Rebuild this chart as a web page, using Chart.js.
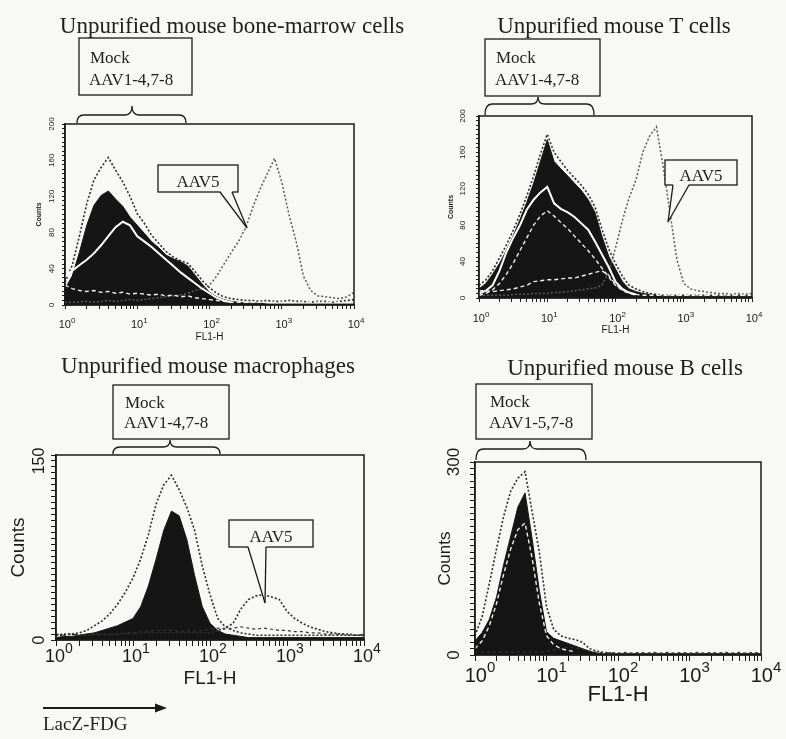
<!DOCTYPE html>
<html>
<head>
<meta charset="utf-8">
<title>AAV transduction of unpurified mouse cells</title>
<script src="https://cdn.jsdelivr.net/npm/chart.js@4.4.1/dist/chart.umd.min.js"></script>
<style>
  html, body { margin: 0; padding: 0; background: #f8f8f6; }
  #page { position: relative; width: 786px; height: 739px; overflow: hidden; }
  #page canvas { position: absolute; }
  #notes { position: absolute; left: 0; top: 0; pointer-events: none; }
  #notes text { font-family: "Liberation Serif", "Times New Roman", serif; fill: #1e1e1e; }
</style>
</head>
<body>
<div id="page">
  <canvas id="bm" width="393" height="245" style="left:0;top:100px"></canvas>
  <canvas id="tc" width="393" height="245" style="left:393px;top:100px"></canvas>
  <canvas id="mp" width="393" height="299" style="left:0;top:440px"></canvas>
  <canvas id="bc" width="393" height="299" style="left:393px;top:440px"></canvas>
  <svg id="notes" width="786" height="739"></svg>
</div>
<script>
// --- data: FL1-H channel bins (10 per decade) ---
const fl1Bins = [1, 1.26, 1.58, 2, 2.51, 3.16, 3.98, 5.01, 6.31, 7.94,
  10, 12.6, 15.8, 20, 25.1, 31.6, 39.8, 50.1, 63.1, 79.4,
  100, 126, 158, 200, 251, 316, 398, 501, 631, 794,
  1000, 1259, 1585, 1995, 2512, 3162, 3981, 5012, 6310, 7943, 10000];

const xDecades = [1, 10, 100, 1000, 10000];
const xExponents = ['0', '1', '2', '3', '4'];
const xMinorTicks = [1, 2, 3, 4, 5, 6, 7, 8, 9, 10, 20, 30, 40, 50, 60, 70, 80, 90,
  100, 200, 300, 400, 500, 600, 700, 800, 900, 1000, 2000, 3000, 4000, 5000, 6000, 7000, 8000, 9000, 10000];

const yLabelsBm = [0, 40, 80, 120, 160, 200];
const yLabelsTc = [0, 40, 80, 120, 160, 200];
const yLabelsMp = [0, 150];
const yLabelsBc = [0, 300];

// bone-marrow cells
const bmMockFill = [18, 32, 58, 88, 110, 121, 126, 117, 109, 97, 88, 79, 70, 63, 55, 51, 48, 43, 33, 23,
  14, 9, 6, 4, 3, 2, 2, 2, 1, 1, 1, 1, 1, 1, 1, 1, 1, 1, 1, 1, 1];
const bmMockDotted = [25, 44, 76, 112, 138, 152, 163, 149, 136, 120, 101, 90, 77, 68, 59, 53, 49, 46, 37, 27,
  19, 13, 9, 7, 6, 5, 5, 4, 5, 4, 4, 5, 4, 4, 3, 4, 4, 3, 4, 5, 6];
const bmMockWhite = [31, 38, 44, 50, 57, 66, 76, 86, 92, 88, 76, 70, 64, 57, 50, 43, 36, 30, 24, 18,
  13, 8, 5, 3, null, null, null, null, null, null, null, null, null, null, null, null, null, null, null, null, null];
const bmMockLow = [22, 18, 16, 15, 16, 14, 15, 13, 14, 12, 13, 12, 11, 12, 10, 11, 9, 10, 8, 7,
  6, 5, 4, 3, 3, 3, 3, 3, 3, 3, 3, 3, 3, 3, 3, 3, 3, 3, 3, 3, 3];
const bmAav5 = [3, 3, 3, 4, 3, 4, 5, 4, 5, 6, 5, 6, 7, 8, 9, 10, 11, 13, 16, 18,
  22, 32, 45, 58, 70, 85, 108, 128, 145, 162, 136, 100, 70, 32, 16, 10, 9, 8, 7, 9, 14];

// T cells
const tcMockFill = [10, 16, 26, 38, 52, 68, 86, 105, 126, 150, 174, 150, 142, 134, 126, 118, 108, 94, 68, 46,
  32, 18, 10, 7, 5, 4, 3, 2, 2, 2, 2, 2, 2, 2, 2, 2, 2, 2, 2, 2, 2];
const tcMockDotted = [14, 20, 30, 44, 58, 74, 92, 112, 134, 158, 180, 160, 150, 140, 132, 124, 114, 100, 76, 54,
  38, 24, 14, 10, 7, 5, 4, 3, 3, 3, 3, 3, 3, 3, 3, 3, 3, 3, 3, 3, 3];
const tcMockWhite = [5, 8, 14, 30, 50, 66, 80, 97, 108, 116, 122, 104, 98, 94, 89, 82, 75, 62, 48, 34,
  18, 10, 6, 4, null, null, null, null, null, null, null, null, null, null, null, null, null, null, null, null, null];
const tcMockWhite2 = [3, 5, 9, 16, 26, 38, 52, 66, 80, 90, 96, 90, 83, 76, 68, 60, 52, 43, 33, 23,
  14, 8, 5, 3, null, null, null, null, null, null, null, null, null, null, null, null, null, null, null, null, null];
const tcMockLow = [8, 8, 7, 8, 9, 10, 12, 14, 18, 19, 20, 20, 21, 22, 22, 24, 26, 28, 30, 25,
  15, 9, 6, 4, 3, 3, 3, 3, 3, 3, 3, 3, 3, 3, 3, 3, 3, 3, 3, 3, 3];
const tcAav5 = [3, 3, 3, 3, 3, 4, 4, 4, 5, 5, 5, 6, 6, 7, 8, 9, 10, 11, 14, 28,
  55, 85, 110, 130, 160, 178, 188, 144, 93, 42, 16, 10, 8, 7, 6, 5, 5, 4, 5, 4, 5];

// macrophages
const mpMockFill = [2, 3, 3, 4, 5, 6, 8, 10, 12, 15, 18, 28, 45, 68, 92, 108, 104, 84, 54, 28,
  14, 8, 5, 4, 3, 2, 2, 2, 2, 2, 2, 2, 2, 2, 2, 2, 2, 2, 2, 2, 2];
const mpMockDotted = [4, 5, 5, 6, 8, 12, 16, 22, 30, 40, 52, 68, 88, 114, 130, 138, 126, 111, 92, 62,
  38, 18, 11, 8, 6, 5, 4, 4, 4, 4, 4, 4, 4, 4, 4, 4, 4, 4, 4, 4, 4];
const mpMockLow = [5, 4, 5, 4, 5, 5, 4, 5, 5, 6, 6, 7, 7, 8, 8, 8, 7, 8, 7, 8,
  9, 10, 9, 10, 11, 10, 9, 10, 9, 8, 8, 7, 7, 6, 6, 5, 5, 5, 4, 4, 5];
const mpAav5 = [4, 4, 5, 4, 4, 5, 5, 4, 5, 5, 5, 6, 6, 6, 6, 6, 6, 6, 6, 6,
  6, 8, 10, 14, 26, 34, 37, 38, 36, 34, 24, 18, 14, 11, 9, 7, 6, 5, 5, 4, 4];

// B cells
const bcMockFill = [22, 35, 55, 90, 140, 185, 230, 252, 180, 100, 36, 26, 22, 18, 14, 10, 6, 3, 2, 2,
  2, 2, 2, 2, 2, 2, 2, 2, 2, 2, 2, 2, 2, 2, 2, 2, 2, 2, 2, 2, 2];
const bcMockDotted = [30, 60, 110, 165, 215, 255, 275, 285, 222, 160, 75, 40, 30, 26, 24, 20, 10, 6, 4, 3,
  2, 2, 2, 2, 2, 2, 2, 2, 2, 2, 2, 2, 2, 2, 2, 2, 2, 2, 2, 2, 2];
const bcMockWhite = [10, 22, 45, 80, 125, 165, 195, 205, 150, 80, 30, 16, 10, 7, 5,
  null, null, null, null, null, null, null, null, null, null, null, null, null, null, null, null, null, null, null, null, null, null, null, null, null, null];
const bcMockLow = [4, 4, 5, 4, 5, 4, 5, 4, 5, 4, 6, 8, 10, 12, 11, 9, 6, 4, 3, 4,
  3, 4, 3, 4, 3, 4, 3, 4, 3, 4, 3, 4, 3, 4, 3, 4, 3, 4, 3, 4, 3];

// --- chart setup ---
const INK = '#1a1a1a';
const SANS = '"Liberation Sans", Arial, Helvetica, sans-serif';
Chart.defaults.font.family = SANS;
Chart.defaults.color = INK;

const looks = {
  fill:      { borderColor: '#151515', backgroundColor: '#151515', borderWidth: 1, fill: 'origin', order: 6 },
  dotted:    { borderColor: '#2b2b2b', borderWidth: 1.6, borderDash: [2, 2], fill: false, order: 4 },
  aav:       { borderColor: '#5a5a5a', borderWidth: 1.5, borderDash: [2, 2], fill: false, order: 3 },
  low:       { borderColor: '#333333', borderWidth: 1.2, borderDash: [3, 3], fill: false, order: 2 },
  white:     { borderColor: '#ffffff', borderWidth: 2, fill: false, order: 1 },
  whiteDash: { borderColor: '#eeeeee', borderWidth: 1.4, borderDash: [4, 3], fill: false, order: 0 }
};

function series(label, values, look) {
  return Object.assign({
    label: label,
    data: fl1Bins.map((x, i) => ({ x: x, y: values[i] })),
    pointRadius: 0, tension: 0, spanGaps: false
  }, looks[look]);
}

// box round the plot area
const frame = {
  id: 'frame',
  afterDraw(chart) {
    const { ctx, chartArea: a } = chart;
    ctx.save();
    ctx.strokeStyle = INK;
    ctx.lineWidth = 1.5;
    ctx.strokeRect(a.left, a.top, a.right - a.left, a.bottom - a.top);
    ctx.restore();
  }
};

// 10^n labels with a raised exponent
const decades = {
  id: 'decades',
  afterDraw(chart, args, o) {
    const { ctx } = chart;
    const sx = chart.scales.x;
    const base = chart.chartArea.bottom + o.offset;
    ctx.save();
    ctx.fillStyle = INK;
    ctx.textBaseline = 'alphabetic';
    xDecades.forEach((v, i) => {
      ctx.font = o.size + 'px ' + SANS;
      const wm = ctx.measureText('10').width;
      ctx.font = o.supSize + 'px ' + SANS;
      const ws = ctx.measureText(xExponents[i]).width;
      const x0 = sx.getPixelForValue(v) + o.shift - (wm + ws) / 2;
      ctx.font = o.size + 'px ' + SANS;
      ctx.fillText('10', x0, base);
      ctx.font = o.supSize + 'px ' + SANS;
      ctx.fillText(xExponents[i], x0 + wm, base - o.raise);
    });
    ctx.restore();
  }
};

function histogram(id, p) {
  return new Chart(document.getElementById(id), {
    type: 'line',
    data: { datasets: p.sets },
    plugins: [decades, frame],
    options: {
      responsive: false,
      animation: false,
      events: [],
      layout: { padding: p.pad },
      plugins: { legend: { display: false }, tooltip: { enabled: false }, decades: p.xl },
      scales: {
        x: {
          type: 'logarithmic', min: 1, max: 10000,
          afterBuildTicks: s => { s.ticks = xMinorTicks.map(v => ({ value: v })); },
          afterFit: s => { s.height = p.xh; },
          ticks: { display: false },
          grid: { drawOnChartArea: false, tickLength: p.xtl, color: INK },
          border: { color: INK, width: 1.5 },
          title: { display: true, text: 'FL1-H', color: INK, font: { size: p.xt.size }, padding: { top: 0, bottom: p.xt.pb } }
        },
        y: {
          min: 0, max: p.y.max,
          afterFit: s => { s.width = p.y.w; },
          ticks: {
            stepSize: p.y.step, autoSkip: false, minRotation: 90, maxRotation: 90,
            crossAlign: 'center', padding: p.y.pad, font: { size: p.y.size },
            callback: v => p.y.labels.includes(v) ? String(v) : ''
          },
          grid: { drawOnChartArea: false, tickLength: p.y.tl, color: INK },
          border: { color: INK, width: 1.5 },
          title: { display: true, text: 'Counts', color: INK, font: { size: p.yt.size, weight: p.yt.weight }, padding: { top: p.yt.pt, bottom: 0 } }
        }
      }
    }
  });
}

histogram('bm', {
  sets: [
    series('Mock / AAV1-4,7-8', bmMockFill, 'fill'),
    series('Mock / AAV1-4,7-8', bmMockDotted, 'dotted'),
    series('Mock / AAV1-4,7-8', bmMockWhite, 'white'),
    series('Mock / AAV1-4,7-8', bmMockLow, 'whiteDash'),
    series('AAV5', bmAav5, 'aav')
  ],
  pad: { left: 33, right: 39, top: 24, bottom: 0 },
  xh: 40, xtl: 4,
  xt: { size: 10, pb: 2 },
  xl: { size: 11, supSize: 8, raise: 5, offset: 23, shift: 2 },
  y: { max: 200, step: 5, labels: yLabelsBm, size: 8, pad: 4, w: 32, tl: 3 },
  yt: { size: 7, weight: 'bold', pt: 2 }
});

histogram('tc', {
  sets: [
    series('Mock / AAV1-4,7-8', tcMockFill, 'fill'),
    series('Mock / AAV1-4,7-8', tcMockDotted, 'dotted'),
    series('Mock / AAV1-4,7-8', tcMockWhite, 'white'),
    series('Mock / AAV1-4,7-8', tcMockWhite2, 'whiteDash'),
    series('Mock / AAV1-4,7-8', tcMockLow, 'whiteDash'),
    series('AAV5', tcAav5, 'aav')
  ],
  pad: { left: 54, right: 34, top: 16, bottom: 7 },
  xh: 40, xtl: 4,
  xt: { size: 10, pb: 2 },
  xl: { size: 11, supSize: 8, raise: 5, offset: 24, shift: 2 },
  y: { max: 200, step: 5, labels: yLabelsTc, size: 8, pad: 7, w: 32, tl: 3 },
  yt: { size: 7, weight: 'bold', pt: 0 }
});

histogram('mp', {
  sets: [
    series('Mock / AAV1-4,7-8', mpMockFill, 'fill'),
    series('Mock / AAV1-4,7-8', mpMockDotted, 'dotted'),
    series('Mock / AAV1-4,7-8', mpMockLow, 'low'),
    series('AAV5', mpAav5, 'dotted')
  ],
  pad: { left: 6, right: 29, top: 15, bottom: 37 },
  xh: 62, xtl: 6,
  xt: { size: 19, pb: 11.6 },
  xl: { size: 18, supSize: 14, raise: 9, offset: 22, shift: 3 },
  y: { max: 155, step: 5, labels: yLabelsMp, size: 16, pad: -2, w: 50, tl: 5 },
  yt: { size: 19, weight: 'normal', pt: 1.6 }
});

histogram('bc', {
  sets: [
    series('Mock / AAV1-5,7-8', bcMockFill, 'fill'),
    series('Mock / AAV1-5,7-8', bcMockDotted, 'dotted'),
    series('Mock / AAV1-5,7-8', bcMockWhite, 'whiteDash'),
    series('Mock / AAV1-5,7-8', bcMockLow, 'low')
  ],
  pad: { left: 38, right: 25, top: 22, bottom: 22 },
  xh: 62, xtl: 6,
  xt: { size: 22, pb: 8.8 },
  xl: { size: 20, supSize: 15, raise: 10, offset: 27, shift: 5 },
  y: { max: 300, step: 10, labels: yLabelsBc, size: 17, pad: 2, w: 44, tl: 5 },
  yt: { size: 17, weight: 'normal', pt: 4.3 }
});

// --- titles, boxes, braces, callouts ---
const svg = document.getElementById('notes');
const NS = 'http://www.w3.org/2000/svg';
function el(tag, attrs, text) {
  const e = document.createElementNS(NS, tag);
  for (const k in attrs) e.setAttribute(k, attrs[k]);
  if (text) e.textContent = text;
  svg.appendChild(e);
  return e;
}
const line = { fill: 'none', stroke: INK, 'stroke-width': 1.3 };

function title(x, y, text) {
  el('text', { x: x, y: y, 'text-anchor': 'middle', 'font-size': 23 }, text);
}
function mockBox(x, y, w, h, tx, b1, b2, second) {
  el('rect', Object.assign({ x: x, y: y, width: w, height: h }, line));
  el('text', { x: tx, y: b1, 'font-size': 17 }, 'Mock');
  el('text', { x: tx - 1, y: b2, 'font-size': 17 }, second);
}
function brace(x1, x2, xm, yb, yt, yp) {
  const d = `M${x1} ${yb} Q${x1} ${yt} ${x1 + 7} ${yt} L${xm - 7} ${yt} Q${xm} ${yt} ${xm} ${yp} ` +
            `Q${xm} ${yt} ${xm + 7} ${yt} L${x2 - 7} ${yt} Q${x2} ${yt} ${x2} ${yb}`;
  el('path', Object.assign({ d: d }, line));
}
function callout(x, y, w, h, b1, b2, tipX, tipY, base) {
  el('rect', { x: x, y: y, width: w, height: h, fill: '#f8f8f6', stroke: INK, 'stroke-width': 1.3 });
  el('polygon', { points: `${b1},${y + h - 1} ${b2},${y + h - 1} ${tipX},${tipY}`, fill: '#f8f8f6', stroke: 'none' });
  el('line', Object.assign({ x1: b1, y1: y + h, x2: tipX, y2: tipY }, line));
  el('line', Object.assign({ x1: b2, y1: y + h, x2: tipX, y2: tipY }, line));
  el('text', { x: x + w / 2, y: base, 'text-anchor': 'middle', 'font-size': 17 }, 'AAV5');
}

title(232, 33, 'Unpurified mouse bone-marrow cells');
title(614, 33, 'Unpurified mouse T cells');
title(208, 373, 'Unpurified mouse macrophages');
title(625, 375, 'Unpurified mouse B cells');

mockBox(79, 38, 113, 57, 90, 63, 85, 'AAV1-4,7-8');
mockBox(485, 39, 115, 57, 496, 63, 85, 'AAV1-4,7-8');
mockBox(113, 385, 116, 54, 125, 408, 428, 'AAV1-4,7-8');
mockBox(476, 384, 116, 55, 490, 407, 428, 'AAV1-5,7-8');

brace(77, 186, 132, 123, 115, 106);
brace(485, 594, 538, 115, 104, 97);
brace(113, 220, 170, 454, 447, 440);
brace(476, 586, 530, 460, 449, 441);

callout(158, 165, 80, 27, 220, 232, 247, 228, 187);
callout(665, 160, 72, 25, 673, 689, 668, 222, 181);
callout(229, 520, 84, 27, 248, 266, 265, 603, 542);

// LacZ-FDG arrow under the macrophage panel
el('line', { x1: 43, y1: 708, x2: 158, y2: 708, stroke: INK, 'stroke-width': 2 });
el('polygon', { points: '167,708 155,703.5 155,712.5', fill: INK });
el('text', { x: 43, y: 730, 'font-size': 19 }, 'LacZ-FDG');
</script>
</body>
</html>
